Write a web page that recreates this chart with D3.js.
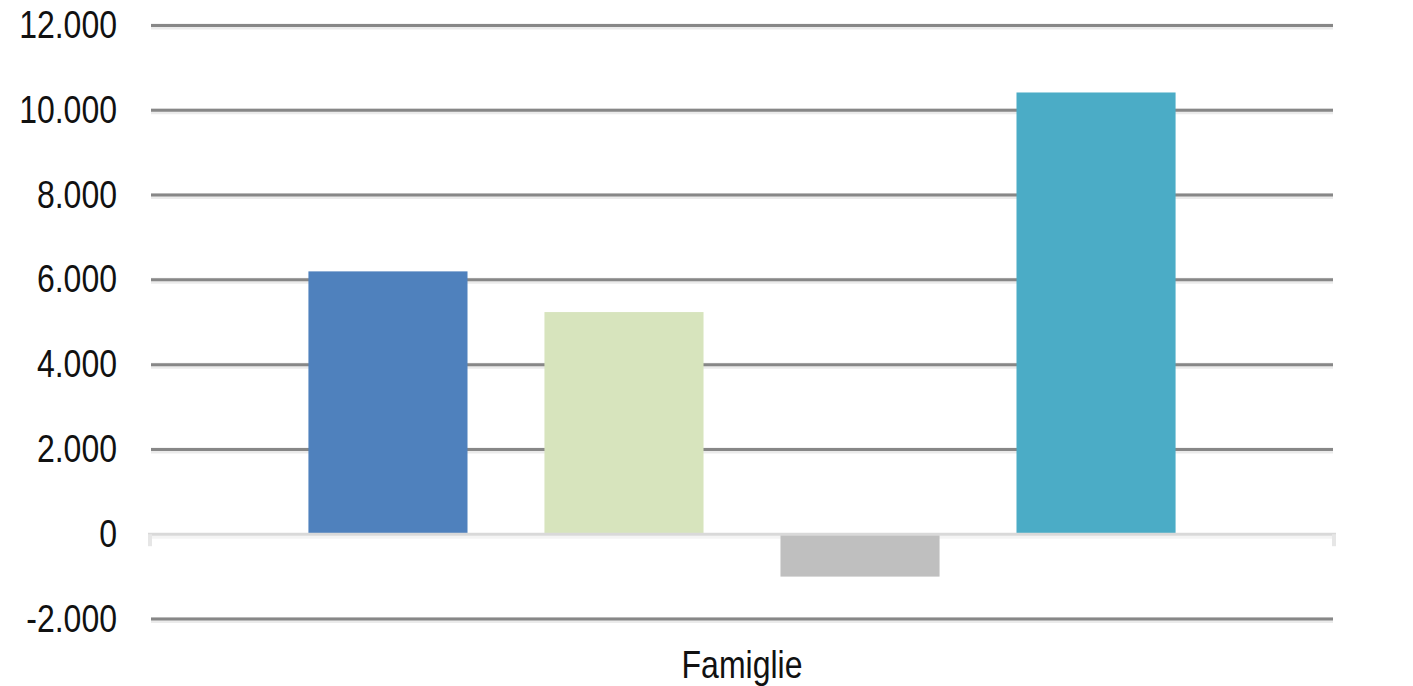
<!DOCTYPE html>
<html>
<head>
<meta charset="utf-8">
<script src="https://cdn.jsdelivr.net/npm/d3@7"></script>
<style>
  html, body { margin: 0; padding: 0; background: #fff; }
  svg { display: block; }
  text { font-family: "Liberation Sans", Arial, sans-serif; fill: #111; }
</style>
</head>
<body>
<svg id="chart" width="1413" height="686"></svg>
<script>
const categories = ["Famiglie"];
const series = ["S1", "S2", "S3", "S4"];
const values = [6200, 5240, -1000, 10420];
const colors = ["#4F81BD", "#D7E4BD", "#BFBFBF", "#4BACC6"];
const yTicks = [-2000, 0, 2000, 4000, 6000, 8000, 10000, 12000];
const yTickLabels = ["-2.000", "0", "2.000", "4.000", "6.000", "8.000", "10.000", "12.000"];

const svg = d3.select("#chart");
const left = 151, right = 1333;
const y = d3.scaleLinear().domain([-2000, 12000]).range([619, 25.5]);
const x0 = d3.scaleBand().domain(categories).range([left, right]).padding(0);
const x1 = d3.scaleBand().domain(series).range([0, x0.bandwidth()])
  .paddingInner(0.326).paddingOuter(0.667);

const sy = 1.22;

// gridlines (except zero)
const grid = svg.append("g");
yTicks.filter(t => t !== 0).forEach(t => {
  grid.append("line").attr("x1", left).attr("x2", right)
    .attr("y1", y(t) + 1).attr("y2", y(t) + 1)
    .attr("stroke", "#ebebeb").attr("stroke-width", 6);
  grid.append("line").attr("x1", left).attr("x2", right)
    .attr("y1", y(t)).attr("y2", y(t))
    .attr("stroke", "#878787").attr("stroke-width", 3);
});

// y labels
const labels = svg.append("g");
yTicks.forEach((t, i) => {
  labels.append("text")
    .attr("transform", `translate(117,${y(t) + 12.5}) scale(1,${sy})`)
    .attr("text-anchor", "end")
    .attr("font-size", 32)
    .text(yTickLabels[i]);
});

const z = y(0);
// faint shadow under zero line
svg.append("line").attr("x1", left - 3).attr("x2", right + 3)
  .attr("y1", z + 3).attr("y2", z + 3).attr("stroke", "#f4f4f4").attr("stroke-width", 3);

// bars
const g = svg.append("g");
categories.forEach(cat => {
  series.forEach((s, i) => {
    const v = values[i];
    g.append("rect")
      .attr("x", x0(cat) + x1(s))
      .attr("width", x1.bandwidth())
      .attr("y", y(Math.max(0, v)))
      .attr("height", Math.abs(y(v) - y(0)))
      .attr("fill", colors[i]);
  });
});

// zero axis line with end ticks
svg.append("line").attr("x1", left - 3).attr("x2", right + 3)
  .attr("y1", z).attr("y2", z).attr("stroke", "#d9d9d9").attr("stroke-width", 3);
[left - 1, right + 1].forEach(xx => {
  svg.append("line").attr("x1", xx).attr("x2", xx)
    .attr("y1", z).attr("y2", z + 12).attr("stroke", "#e6e6e6").attr("stroke-width", 4);
});

// category label
categories.forEach(cat => {
  svg.append("text")
    .attr("transform", `translate(${x0(cat) + x0.bandwidth() / 2},678) scale(1,${sy})`)
    .attr("text-anchor", "middle")
    .attr("font-size", 32)
    .text(cat);
});
</script>
</body>
</html>
